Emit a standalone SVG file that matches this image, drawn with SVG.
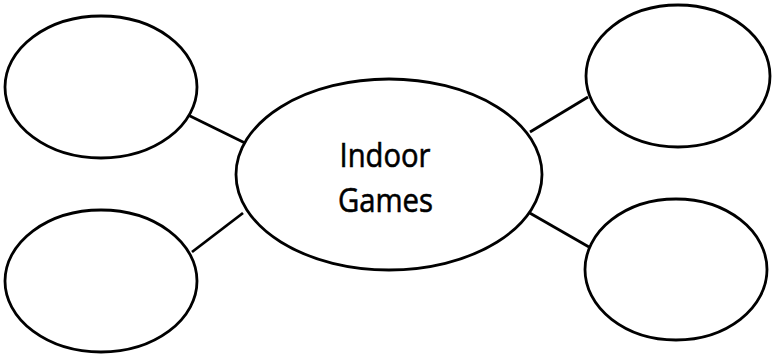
<svg xmlns="http://www.w3.org/2000/svg" width="772" height="354" viewBox="0 0 772 354">
<style>
.node{fill:#fff;stroke:#000;stroke-width:2.8}
.conn{stroke:#000;stroke-width:2.8;fill:none}
.lbl{font-family:"Open Sans","Liberation Sans",Arial,sans-serif;font-size:33px;fill:#000;stroke:#000;stroke-width:0.6;text-anchor:middle}
</style>
<rect width="772" height="354" fill="#fff"/>
<g id="connectors">
<line class="conn" x1="188" y1="115" x2="245" y2="143"/>
<line class="conn" x1="192" y1="252" x2="243" y2="213"/>
<line class="conn" x1="530" y1="132" x2="588" y2="97"/>
<line class="conn" x1="528" y1="212" x2="589" y2="247"/>
</g>
<g id="center">
<ellipse class="node" cx="389" cy="174.5" rx="153" ry="95.5"/>
<text class="lbl" x="385" y="167" textLength="91" lengthAdjust="spacingAndGlyphs">Indoor</text>
<text class="lbl" x="385.5" y="212" textLength="95" lengthAdjust="spacingAndGlyphs">Games</text>
</g>
<g id="top-left"><ellipse class="node" cx="101" cy="87" rx="96" ry="71"/></g>
<g id="bottom-left"><ellipse class="node" cx="101" cy="281" rx="96" ry="71"/></g>
<g id="top-right"><ellipse class="node" cx="678" cy="76" rx="92" ry="71"/></g>
<g id="bottom-right"><ellipse class="node" cx="676" cy="269.5" rx="91" ry="70.5"/></g>
</svg>
